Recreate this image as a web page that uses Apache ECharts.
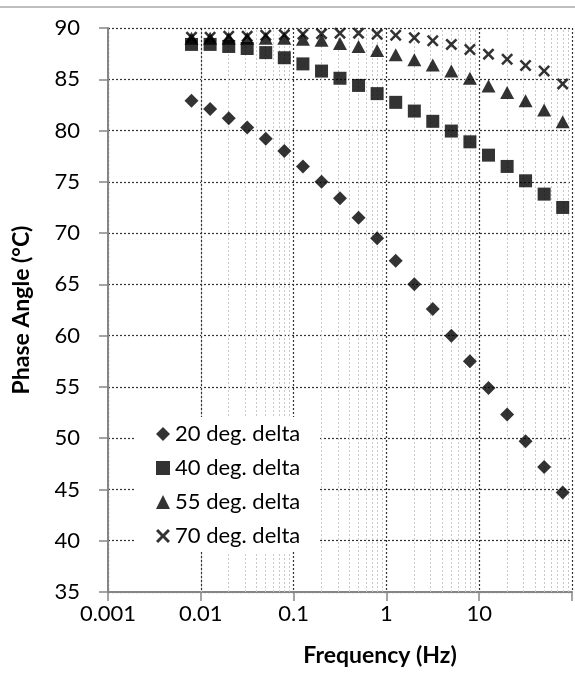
<!DOCTYPE html>
<html>
<head>
<meta charset="utf-8">
<script src="https://cdn.jsdelivr.net/npm/echarts@6/dist/echarts.min.js"></script>
<style>
  html, body { margin: 0; padding: 0; background: #fff; }
  #chart { width: 575px; height: 689px; }
</style>
</head>
<body>
<div id="chart"></div>
<script>
// Frequency sweep (Hz), 0.2-decade steps
const frequency = [0.00794, 0.0126, 0.02, 0.0316, 0.0501, 0.0794, 0.126, 0.2, 0.316, 0.501,
                   0.794, 1.26, 2, 3.16, 5.01, 7.94, 12.6, 20, 31.6, 50.1, 79.4];

// Phase angle for each temperature delta
const delta20 = [82.9, 82.1, 81.2, 80.3, 79.2, 78.0, 76.5, 75.0, 73.4, 71.5,
                 69.5, 67.3, 65.0, 62.6, 60.0, 57.5, 54.9, 52.3, 49.7, 47.2, 44.7];
const delta40 = [88.4, 88.4, 88.2, 88.0, 87.6, 87.1, 86.5, 85.8, 85.1, 84.4,
                 83.6, 82.75, 81.9, 80.9, 79.95, 78.9, 77.6, 76.5, 75.1, 73.8, 72.5];
const delta55 = [89.0, 89.0, 89.0, 89.0, 89.0, 89.0, 88.9, 88.8, 88.5, 88.2,
                 87.8, 87.4, 86.9, 86.4, 85.8, 85.1, 84.35, 83.7, 82.9, 82.0, 80.85];
const delta70 = [89.1, 89.1, 89.2, 89.2, 89.3, 89.35, 89.4, 89.45, 89.5, 89.5,
                 89.4, 89.3, 89.05, 88.75, 88.4, 87.9, 87.45, 86.95, 86.35, 85.8, 84.55];

const seriesNames = ['20 deg. delta', '40 deg. delta', '55 deg. delta', '70 deg. delta'];

// Axis ranges and tick labels
const xMin = 0.001, xMax = 100;
const xTickLabels = ['0.001', '0.01', '0.1', '1', '10'];
const yMin = 35, yMax = 90, yStep = 5;

const FONT = 'Lato, "Open Sans", sans-serif';
const FS = 22;
const crossPath = 'path://M0,1.5 L1.5,0 L5,3.5 L8.5,0 L10,1.5 L6.5,5 L10,8.5 L8.5,10 L5,6.5 L1.5,10 L0,8.5 L3.5,5 Z';

// Minor (2..9 per decade) grid positions for the log axis
const minorGrid = [];
for (let d = xMin; d < xMax * 0.999; d *= 10) {
  for (let k = 2; k <= 9; k++) minorGrid.push(+(d * k).toPrecision(3));
}

function pairs(vals) {
  return frequency.map((f, i) => [f, vals[i]]);
}

const chart = echarts.init(document.getElementById('chart'), null, { renderer: 'canvas' });

const markerStyle = { color: '#000' };

chart.setOption({
  animation: false,
  backgroundColor: '#fff',
  textStyle: { fontFamily: FONT },
  grid: { left: 108, top: 28, right: 1, bottom: 97, containLabel: false },
  xAxis: {
    type: 'log',
    logBase: 10,
    min: xMin,
    max: xMax,
    axisLine: { show: true, onZero: false, lineStyle: { color: '#868686', width: 2 } },
    axisTick: { show: true, length: 9, inside: false, lineStyle: { color: '#868686', width: 1.5 } },
    axisLabel: {
      margin: 11,
      fontSize: FS,
      color: '#000',
      fontFamily: FONT,
      formatter: function (v) {
        const s = String(+v.toPrecision(3));
        return xTickLabels.indexOf(s) >= 0 ? s : '';
      }
    },
    splitLine: { show: true, lineStyle: { color: '#333', type: [2, 2], width: 1.2 } }
  },
  yAxis: {
    type: 'value',
    min: yMin,
    max: yMax,
    interval: yStep,
    axisLine: { show: true, lineStyle: { color: '#868686', width: 2 } },
    axisTick: { show: true, length: 9, lineStyle: { color: '#868686', width: 1.5 } },
    axisLabel: { margin: 28, fontSize: FS, color: '#000', fontFamily: FONT },
    splitLine: { show: true, lineStyle: { color: '#333', type: [2, 2], width: 1.2 } }
  },
  legend: {
    orient: 'vertical',
    left: 135,
    top: 417,
    padding: [6, 18, 5, 21],
    backgroundColor: '#fff',
    itemWidth: 14,
    itemHeight: 14,
    itemGap: 12,
    itemStyle: { borderWidth: 0 },
    textStyle: { fontSize: FS, color: '#000', fontFamily: FONT, lineHeight: 22 },
    data: seriesNames,
    z: 10
  },
  graphic: [
    {
      type: 'line',
      shape: { x1: 0, y1: 7, x2: 575, y2: 7 },
      style: { stroke: '#bfbfbf', lineWidth: 2 },
      silent: true
    },
    {
      type: 'text',
      x: 380,
      y: 656,
      style: {
        text: 'Frequency (Hz)',
        font: 'bold 23px ' + FONT,
        fill: '#000',
        textAlign: 'center',
        textVerticalAlign: 'middle'
      }
    },
    {
      type: 'text',
      x: 22,
      y: 310,
      rotation: Math.PI / 2,
      style: {
        text: 'Phase Angle (°C)',
        font: 'bold 23px ' + FONT,
        fill: '#000',
        textAlign: 'center',
        textVerticalAlign: 'middle'
      }
    }
  ],
  series: [
    {
      // minor vertical grid lines
      type: 'scatter',
      data: [],
      silent: true,
      z: 1,
      markLine: {
        silent: true,
        z: 1,
        symbol: ['none', 'none'],
        label: { show: false },
        emphasis: { disabled: true },
        lineStyle: { color: '#c8c8c8', type: [2, 2], width: 1 },
        data: minorGrid.map(v => ({ xAxis: v }))
      }
    },
    {
      name: seriesNames[0], type: 'scatter', symbol: 'diamond', symbolSize: [14, 14],
      itemStyle: markerStyle, data: pairs(delta20), z: 3
    },
    {
      name: seriesNames[1], type: 'scatter', symbol: 'rect', symbolSize: [13, 13],
      itemStyle: markerStyle, data: pairs(delta40), z: 3
    },
    {
      name: seriesNames[2], type: 'scatter', symbol: 'triangle', symbolSize: [14, 13],
      itemStyle: markerStyle, data: pairs(delta55), z: 3
    },
    {
      name: seriesNames[3], type: 'scatter', symbol: crossPath, symbolSize: [12, 12],
      itemStyle: markerStyle, data: pairs(delta70), z: 3
    }
  ]
});
</script>
</body>
</html>
